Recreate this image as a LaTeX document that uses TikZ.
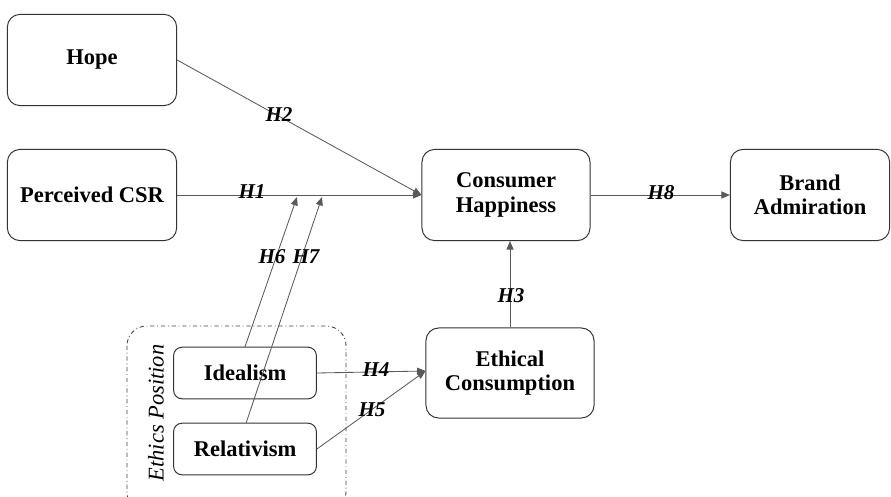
\documentclass[tikz,border=0pt]{standalone}
\usepackage{fontspec}
\setmainfont{Liberation Serif}
\usetikzlibrary{arrows.meta}

\begin{document}
\begin{tikzpicture}[x=0.025cm, y=-0.025cm,
  box/.style={draw=black!80, line width=0.7pt, rounded corners=9pt, align=center,
    font=\fontsize{16}{17.5}\selectfont\bfseries, inner sep=0pt},
  bigbox/.style={box, minimum width=4.2cm, minimum height=2.28cm},
  smallbox/.style={box, rounded corners=6pt, minimum width=3.57cm, minimum height=1.29cm},
  link/.style={draw=black!65, line width=0.6pt, -{Triangle[length=6pt,width=5pt]}},
  hyp/.style={font=\fontsize{15}{15}\selectfont\bfseries\itshape, inner sep=0pt}]
  \useasboundingbox (0,0) rectangle (891,497);
  % Ethics Position group
  \draw[black!75, line width=0.6pt, dash dot, rounded corners=14pt] (127,326) rectangle (346,512);
  \node[rotate=90, font=\fontsize{16}{16}\selectfont\itshape, inner sep=0pt] (ethics) at (156,413) {Ethics Position};
  % boxes
  \node[bigbox, minimum width=4.23cm] (hope) at (92,60) {Hope};
  \node[bigbox, minimum width=4.23cm] (pcsr) at (92,195) {Perceived CSR};
  \node[bigbox] (ch) at (506,195) {Consumer\\Happiness};
  \node[bigbox, minimum width=3.98cm] (ba) at (810,195) {Brand\\Admiration};
  \node[bigbox, minimum height=2.25cm] (ec) at (510,373) {Ethical\\Consumption};
  \node[smallbox] (ideal) at (245,373) {Idealism};
  \node[smallbox] (rel) at (245,449) {Relativism};
  % moderation points on H1
  \coordinate (m6) at (297,197);
  \coordinate (m7) at (322,197);
  % paths
  \draw[link] (hope.east) -- (ch.west);
  \draw[link] (pcsr.east) -- (ch.west);
  \draw[link] (ch.east) -- (ba.west);
  \draw[link] (ec.north) -- (ec.north |- ch.south);
  \draw[link] (ideal.east) -- ([yshift=0.05cm]ec.west);
  \draw[link] (rel.east) -- ([yshift=0.05cm]ec.west);
  \draw[link] (ideal.north) -- (m6);
  \draw[link] ([xshift=0.03cm]rel.north) -- (m7);
  % labels
  \node[hyp] (h1) at (252,192) {H1};
  \node[hyp] (h2) at (279,115) {H2};
  \node[hyp] (h3) at (511,296) {H3};
  \node[hyp] (h4) at (376,370) {H4};
  \node[hyp] (h5) at (372,410) {H5};
  \node[hyp] (h6) at (272,257) {H6};
  \node[hyp] (h7) at (306,257) {H7};
  \node[hyp] (h8) at (661,193) {H8};
\end{tikzpicture}
\end{document}
